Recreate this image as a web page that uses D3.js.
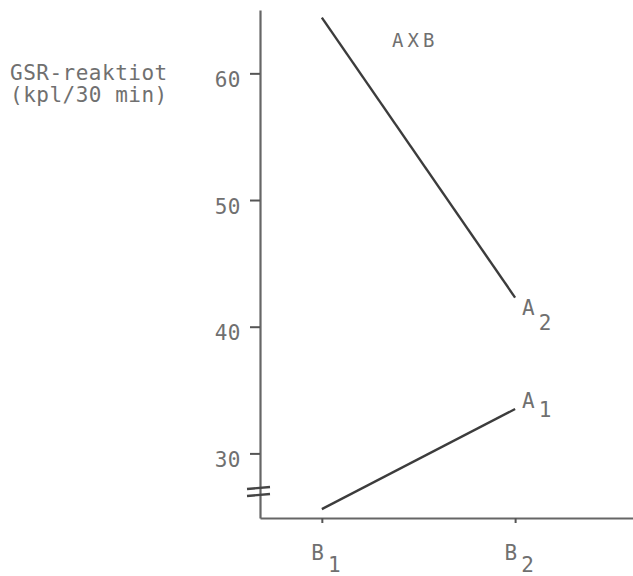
<!DOCTYPE html>
<html>
<head>
<meta charset="utf-8">
<script src="https://cdn.jsdelivr.net/npm/d3@7"></script>
<style>
  html, body { margin: 0; padding: 0; background: #fff; }
  svg text { font-family: "DejaVu Sans Mono", monospace; fill: #707070; }
</style>
</head>
<body>
<svg id="chart" width="633" height="576"></svg>
<script>
// Interaction A x B: mean GSR reactions per 30 min
const categories = ["B", "B"];
const categorySubs = ["1", "2"];
const seriesNames = ["A", "A"];
const seriesSubs = ["1", "2"];
const seriesA1 = [25.6, 33.5];
const seriesA2 = [64.4, 42.3];
const yTicks = [30, 40, 50, 60];
const yLabelLines = ["GSR-reaktiot", "(kpl/30 min)"];
const title = "AXB";

const svg = d3.select("#chart");
const W = 633;
const FS = 21;

const y = d3.scaleLinear().domain([24.9, 65]).range([518, 10]);
const x = d3.scaleLinear().domain([-0.32, 1.61]).range([260, W]);
const xPos = [0, 1];

// y axis
const gy = svg.append("g").attr("transform", "translate(260,0)")
  .call(d3.axisLeft(y).tickValues(yTicks).tickSize(10).tickSizeOuter(0).tickPadding(9));
gy.select(".domain").attr("stroke", "#666").attr("stroke-width", 2.2);
gy.selectAll(".tick line").attr("stroke", "#555").attr("stroke-width", 2);
gy.selectAll(".tick text")
  .attr("font-size", FS).attr("letter-spacing", 0.5)
  .attr("dy", "0.62em")
  .attr("font-family", "DejaVu Sans Mono").attr("fill", "#707070");

// x axis
const gx = svg.append("g").attr("transform", "translate(0,518)")
  .call(d3.axisBottom(x).tickValues(xPos).tickSize(5).tickSizeOuter(0).tickFormat(() => ""));
gx.select(".domain").attr("stroke", "#666").attr("stroke-width", 2.2);
gx.selectAll(".tick line").attr("stroke", "#555").attr("stroke-width", 2);
gx.selectAll(".tick text").remove();
gx.selectAll(".tick").each(function(d, i) {
  const t = d3.select(this).append("text")
    .attr("font-size", FS).attr("text-anchor", "start")
    .attr("x", -11).attr("y", 42)
    .attr("font-family", "DejaVu Sans Mono").attr("fill", "#707070");
  t.append("tspan").text(categories[i]);
  t.append("tspan").attr("dx", 4).attr("dy", 12).text(categorySubs[i]);
});

// axis break marks
const yb = y.range()[0];
[-30, -23].forEach(a => {
  svg.append("line")
    .attr("x1", 247).attr("x2", 270)
    .attr("y1", yb + a + 1).attr("y2", yb + a - 1)
    .attr("stroke", "#444").attr("stroke-width", 2.4);
});

// series lines
const line = d3.line().x((d, i) => x(xPos[i])).y(d => y(d));
[seriesA1, seriesA2].forEach(s => {
  svg.append("path").datum(s).attr("d", line)
    .attr("fill", "none").attr("stroke", "#3c3c3c").attr("stroke-width", 2.4);
});

// series labels at line ends
[[seriesA1, 0, -1, 9], [seriesA2, 1, 17, 15]].forEach(([s, k, off, sub]) => {
  const px = x(xPos[1]), py = y(s[1]);
  const t = svg.append("text").attr("font-size", FS)
    .attr("x", px + 7).attr("y", py + off);
  t.append("tspan").text(seriesNames[k]);
  t.append("tspan").attr("dx", 4).attr("dy", sub).text(seriesSubs[k]);
});

// title
svg.append("text").attr("x", 392).attr("y", 47)
  .attr("font-size", 19).attr("letter-spacing", 4).text(title);

// y axis label, two lines
const yl = svg.append("text").attr("font-size", FS).attr("letter-spacing", 0.5);
yLabelLines.forEach((l, i) => {
  yl.append("tspan").attr("x", 10).attr("y", 80 + i * 22).text(l);
});
</script>
</body>
</html>
